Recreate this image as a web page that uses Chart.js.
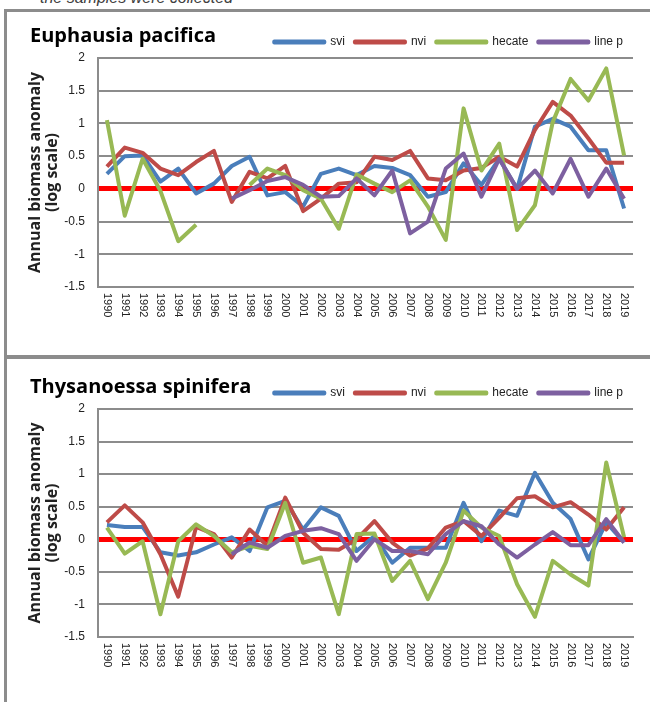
<!DOCTYPE html>
<html>
<head>
<meta charset="utf-8">
<script src="https://cdn.jsdelivr.net/npm/chart.js@4.4.1/dist/chart.umd.min.js"></script>
<style>
body{margin:0;width:650px;height:702px;overflow:hidden;background:#fff;position:relative;font-family:"Liberation Sans",Arial,sans-serif;}
.note{position:absolute;left:40px;top:-11px;font-style:italic;font-size:16px;color:#404040;white-space:nowrap;}
.panel{position:absolute;left:4px;width:660px;border-left:3px solid #8c8c8c;}
#p1{top:9px;height:346px;border-top:3px solid #8c8c8c;}
#p2{top:355px;height:360px;border-top:4px solid #8c8c8c;}
.panel h2{position:absolute;left:23px;margin:0;font:bold 20px "Open Sans";color:#000;z-index:2;}
.box{position:absolute;left:0;top:0;width:643px;}
</style>
</head>
<body>
<div class="note">the samples were collected</div>

<div class="panel" id="p1">
<h2 style="top:9px">Euphausia pacifica</h2>
<div class="box" style="height:342px"><canvas id="chart1"></canvas></div>
</div>

<div class="panel" id="p2">
<h2 style="top:13px">Thysanoessa spinifera</h2>
<div class="box" style="height:343px"><canvas id="chart2"></canvas></div>
</div>

<script>

const years = ["1990","1991","1992","1993","1994","1995","1996","1997","1998","1999",
"2000","2001","2002","2003","2004","2005","2006","2007","2008","2009",
"2010","2011","2012","2013","2014","2015","2016","2017","2018","2019"];

const seriesNames = ["svi","nvi","hecate","line p"];
const seriesColors = ["#4a7ebb","#be4b48","#98b954","#7d60a0"];

const yMin = -1.5, yMax = 2, yStep = 0.5;

/* Euphausia pacifica */
const epSvi = [0.23,0.5,0.51,0.11,0.31,-0.07,0.08,0.35,0.49,-0.1,
-0.05,-0.27,0.23,0.31,0.21,0.35,0.32,0.21,-0.12,-0.05,
0.39,0.06,0.46,0.0,0.95,1.07,0.95,0.59,0.59,-0.3];
const epNvi = [0.34,0.63,0.55,0.31,0.21,0.41,0.58,-0.2,0.26,0.16,
0.35,-0.34,-0.15,0.08,0.1,0.49,0.44,0.58,0.16,0.13,
0.28,0.32,0.49,0.34,0.9,1.33,1.12,0.77,0.4,0.4];
const epHecate = [1.05,-0.41,0.46,-0.03,-0.8,-0.55,null,null,0.06,0.31,
0.21,-0.02,-0.15,-0.61,0.22,0.08,-0.05,0.13,-0.27,-0.78,
1.23,0.28,0.69,-0.63,-0.25,1.02,1.68,1.35,1.84,0.51];
const epLineP = [null,null,null,null,null,null,null,-0.15,-0.02,0.12,
0.18,0.06,-0.12,-0.11,0.16,-0.1,0.28,-0.68,-0.5,0.31,
0.54,-0.12,0.46,0.0,0.28,-0.07,0.46,-0.12,0.31,-0.15];

/* Thysanoessa spinifera */
const tsSvi = [0.22,0.19,0.19,-0.2,-0.25,-0.2,-0.08,0.03,-0.18,0.49,
0.59,0.15,0.49,0.36,-0.18,0.05,-0.36,-0.13,-0.13,-0.13,
0.56,-0.03,0.44,0.36,1.02,0.56,0.31,-0.31,0.26,-0.05];
const tsNvi = [0.26,0.52,0.26,-0.23,-0.88,0.19,0.08,-0.28,0.15,-0.1,
0.64,0.1,-0.15,-0.16,0.0,0.28,-0.05,-0.25,-0.14,0.18,
0.28,0.05,0.33,0.63,0.66,0.49,0.57,0.38,0.15,0.49];
const tsHecate = [0.18,-0.22,-0.03,-1.15,-0.03,0.23,0.05,-0.2,-0.1,-0.15,
0.56,-0.36,-0.28,-1.15,0.08,0.09,-0.64,-0.33,-0.92,-0.36,
0.44,0.18,0.05,-0.69,-1.19,-0.33,-0.54,-0.71,1.18,0.03];
const tsLineP = [null,null,null,null,null,null,null,-0.23,-0.05,-0.13,
0.05,0.13,0.17,0.08,-0.33,0.0,-0.18,-0.18,-0.23,0.08,
0.28,0.2,-0.08,-0.28,-0.08,0.11,-0.09,-0.09,0.31,-0.05];


/* year labels read top to bottom, like the original */
const yearLabels = {
id:"yearLabels",
afterDraw(chart){
const xs = chart.scales.x, ctx = chart.ctx;
ctx.save();
ctx.font = '11px "Liberation Sans"';
ctx.fillStyle = "#222";
ctx.textAlign = "left";
ctx.textBaseline = "middle";
xs.ticks.forEach((t,i)=>{
ctx.save();
ctx.translate(xs.getPixelForTick(i), xs.bottom - xs.height + 6);
ctx.rotate(Math.PI/2);
ctx.fillText(xs.getLabelForValue(t.value),0,0);
ctx.restore();
});
ctx.restore();
}
};

function makeChart(id, values, padTop, axisHeight){
new Chart(
document.getElementById(id),
{
type:"line",
data:{
labels:years,
datasets:values.map((v,i)=>({
label:seriesNames[i],
data:v,
borderColor:seriesColors[i],
backgroundColor:seriesColors[i],
borderWidth:4,
pointRadius:0,
tension:0,
borderJoinStyle:"round",
order:4-i
}))
},
options:{
animation:false,
responsive:true,
maintainAspectRatio:false,
layout:{padding:{top:padTop,left:0,right:17,bottom:0}},
plugins:{
tooltip:{enabled:false},
legend:{
position:"top",
align:"end",
labels:{
boxWidth:50,
boxHeight:1,
padding:10,
color:"#222",
font:{family:"Liberation Sans",size:12},
sort:(a,b)=>a.datasetIndex-b.datasetIndex
}
}
},
scales:{
x:{
offset:true,
grid:{display:false},
border:{color:"#8c8c8c",width:2},
ticks:{display:false},
afterFit:s=>{s.height = axisHeight;}
},
y:{
min:yMin,
max:yMax,
ticks:{
stepSize:yStep,
padding:13,
color:"#222",
font:{family:"Liberation Sans",size:12},
callback:v=>String(Math.round(v*10)/10)
},
grid:{
drawTicks:false,
color:c=>c.tick && c.tick.value===0 ? "#ff0000" : "#8c8c8c",
lineWidth:c=>c.tick && c.tick.value===0 ? 5 : 2
},
border:{color:"#8c8c8c",width:2},
title:{
display:true,
text:["Annual biomass anomaly","(log scale)"],
color:"#222",
font:{family:"Open Sans",size:16,weight:"bold",lineHeight:1.05},
padding:{top:20,bottom:0}
},
afterFit:s=>{s.width = 91;}
}
}
},
plugins:[yearLabels]
}
);
}

makeChart("chart1",[epSvi,epNvi,epHecate,epLineP],14,67);
makeChart("chart2",[tsSvi,tsNvi,tsHecate,tsLineP],18,65);

</script>
</body>
</html>
